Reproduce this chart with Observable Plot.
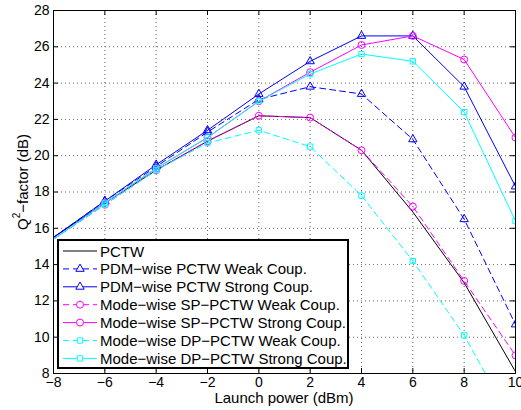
<!DOCTYPE html>
<html><head><meta charset="utf-8">
<script src="https://cdn.jsdelivr.net/npm/d3@7"></script>
<script src="https://cdn.jsdelivr.net/npm/@observablehq/plot@0.6"></script>
<style>
body{margin:0;background:#fff;}
#chart{position:relative;width:521px;height:410px;}
</style>
</head><body><div id="chart"></div>
<script>
// ---- data ----
const launchPower = [-8, -6, -4, -2, 0, 2, 4, 6, 8, 10];
const pctw      = [15.5, 17.4, 19.2, 20.8, 22.2, 22.1, 20.3, 16.9, 13.0, 8.1];
const pdmWeak   = [15.5, 17.5, 19.4, 21.3, 23.1, 23.8, 23.4, 20.9, 16.5, 10.7];
const pdmStrong = [15.5, 17.5, 19.5, 21.4, 23.4, 25.2, 26.6, 26.6, 23.8, 18.3];
const spWeak    = [15.4, 17.3, 19.2, 20.8, 22.2, 22.1, 20.3, 17.2, 13.1, 9.0];
const spStrong  = [15.4, 17.4, 19.3, 21.0, 23.0, 24.6, 26.1, 26.6, 25.3, 21.0];
const dpWeak    = [15.4, 17.3, 19.2, 20.7, 21.4, 20.5, 17.8, 14.2, 10.1, 5.0];
const dpStrong  = [15.4, 17.4, 19.3, 21.0, 23.0, 24.5, 25.6, 25.2, 22.4, 16.4];
const seriesNames = [
  "PCTW",
  "PDM\u2212wise PCTW Weak Coup.",
  "PDM\u2212wise PCTW Strong Coup.",
  "Mode\u2212wise SP\u2212PCTW Weak Coup.",
  "Mode\u2212wise SP\u2212PCTW Strong Coup.",
  "Mode\u2212wise DP\u2212PCTW Weak Coup.",
  "Mode\u2212wise DP\u2212PCTW Strong Coup."
];
const xTicks = [-8, -6, -4, -2, 0, 2, 4, 6, 8, 10];
const yTicks = [8, 10, 12, 14, 16, 18, 20, 22, 24, 26, 28];
const xLabel = "Launch power (dBm)";
const yLabelMain = "Q";
const yLabelSup = "2";
const yLabelRest = "\u2212factor (dB)";

// ---- styling per series ----
const seriesValues = [pctw, pdmWeak, pdmStrong, spWeak, spStrong, dpWeak, dpStrong];
const seriesColor = ["#000000", "#0000ff", "#0000ff", "#ff00ff", "#ff00ff", "#00ffff", "#00ffff"];
const seriesDash = [null, "6,4", null, "6,4", null, "6,4", null];
const seriesSymbol = [null, "triangle", "triangle", "circle", "circle", "square", "square"];
const symbolR = {triangle: 3.1, circle: 3.5, square: 3.0};

const series = seriesNames.map((name, i) => ({
  name, color: seriesColor[i], dash: seriesDash[i], symbol: seriesSymbol[i],
  rows: launchPower.map((x, j) => ({x, y: seriesValues[i][j], name}))
}));

const W = 521, H = 410, mL = 53, mR = 6, mT = 10, mB = 37;
const innerW = W - mL - mR, innerH = H - mT - mB;
const font = "'Liberation Sans', Arial, Helvetica, sans-serif";

const marks = [
  Plot.gridX(xTicks, {stroke: "#666", strokeOpacity: 1, strokeDasharray: "1,3"}),
  Plot.gridY(yTicks, {stroke: "#666", strokeOpacity: 1, strokeDasharray: "1,3"}),
  Plot.tickX(xTicks, {insetTop: innerH - 5, stroke: "black"}),
  Plot.tickX(xTicks, {insetBottom: innerH - 5, stroke: "black"}),
  Plot.tickY(yTicks, {insetRight: innerW - 5, stroke: "black"}),
  Plot.tickY(yTicks, {insetLeft: innerW - 5, stroke: "black"}),
  Plot.axisX(xTicks, {tickSize: 0, tickPadding: 4, label: null, fontSize: 14, fill: "black"}),
  Plot.axisY(yTicks, {tickSize: 0, tickPadding: 4, label: null, fontSize: 14, fill: "black"})
];
for (const s of series) {
  marks.push(Plot.line(s.rows, {x: "x", y: "y", stroke: s.color, strokeWidth: 1,
    strokeDasharray: s.dash || undefined, clip: true}));
  if (s.symbol) {
    marks.push(Plot.dot(s.rows.filter(d => d.x > -8), {x: "x", y: "y", stroke: s.color,
      fill: "none", strokeWidth: 1, symbol: s.symbol, r: symbolR[s.symbol], clip: true}));
  }
}
marks.push(Plot.frame({stroke: "black", strokeWidth: 1}));

const plot = Plot.plot({
  width: W, height: H,
  marginLeft: mL, marginRight: mR, marginTop: mT, marginBottom: mB,
  x: {domain: [-8, 10]},
  y: {domain: [8, 28]},
  style: {fontFamily: font, fontSize: "14px", background: "white", color: "black"},
  marks
});
document.getElementById("chart").appendChild(plot);

// ---- axis titles & legend ----
const svg = d3.select(plot);
svg.append("text").attr("x", mL + innerW / 2).attr("y", 403)
  .attr("text-anchor", "middle").attr("font-family", font).attr("font-size", 15)
  .attr("fill", "black").text(xLabel);
const yl = svg.append("text").attr("transform", "translate(22,182) rotate(-90)")
  .attr("text-anchor", "middle").attr("dominant-baseline", "central")
  .attr("font-family", font).attr("font-size", 15).attr("fill", "black");
yl.append("tspan").text(yLabelMain);
yl.append("tspan").attr("font-size", 10).attr("dy", -6).text(yLabelSup);
yl.append("tspan").attr("dy", 6).text(yLabelRest);

const lg = svg.append("g");
lg.append("rect").attr("x", 58).attr("y", 240).attr("width", 290).attr("height", 128)
  .attr("fill", "white").attr("stroke", "black").attr("stroke-width", 2);
series.forEach((s, i) => {
  const cy = 251 + i * 17.9;
  lg.append("line").attr("x1", 63).attr("x2", 97).attr("y1", cy).attr("y2", cy)
    .attr("stroke", s.color).attr("stroke-width", 1)
    .attr("stroke-dasharray", s.dash ? "6,4" : null);
  if (s.symbol) {
    const sym = {triangle: d3.symbolTriangle, circle: d3.symbolCircle, square: d3.symbolSquare}[s.symbol];
    const r = symbolR[s.symbol];
    lg.append("path").attr("d", d3.symbol(sym, Math.PI * r * r)())
      .attr("transform", `translate(80,${cy})`)
      .attr("fill", "white").attr("stroke", s.color).attr("stroke-width", 1);
  }
  lg.append("text").attr("x", 100).attr("y", cy).attr("dominant-baseline", "central")
    .attr("text-anchor", "start")
    .attr("font-family", font).attr("font-size", 15).attr("fill", "black").text(s.name);
});
</script>
</body></html>
